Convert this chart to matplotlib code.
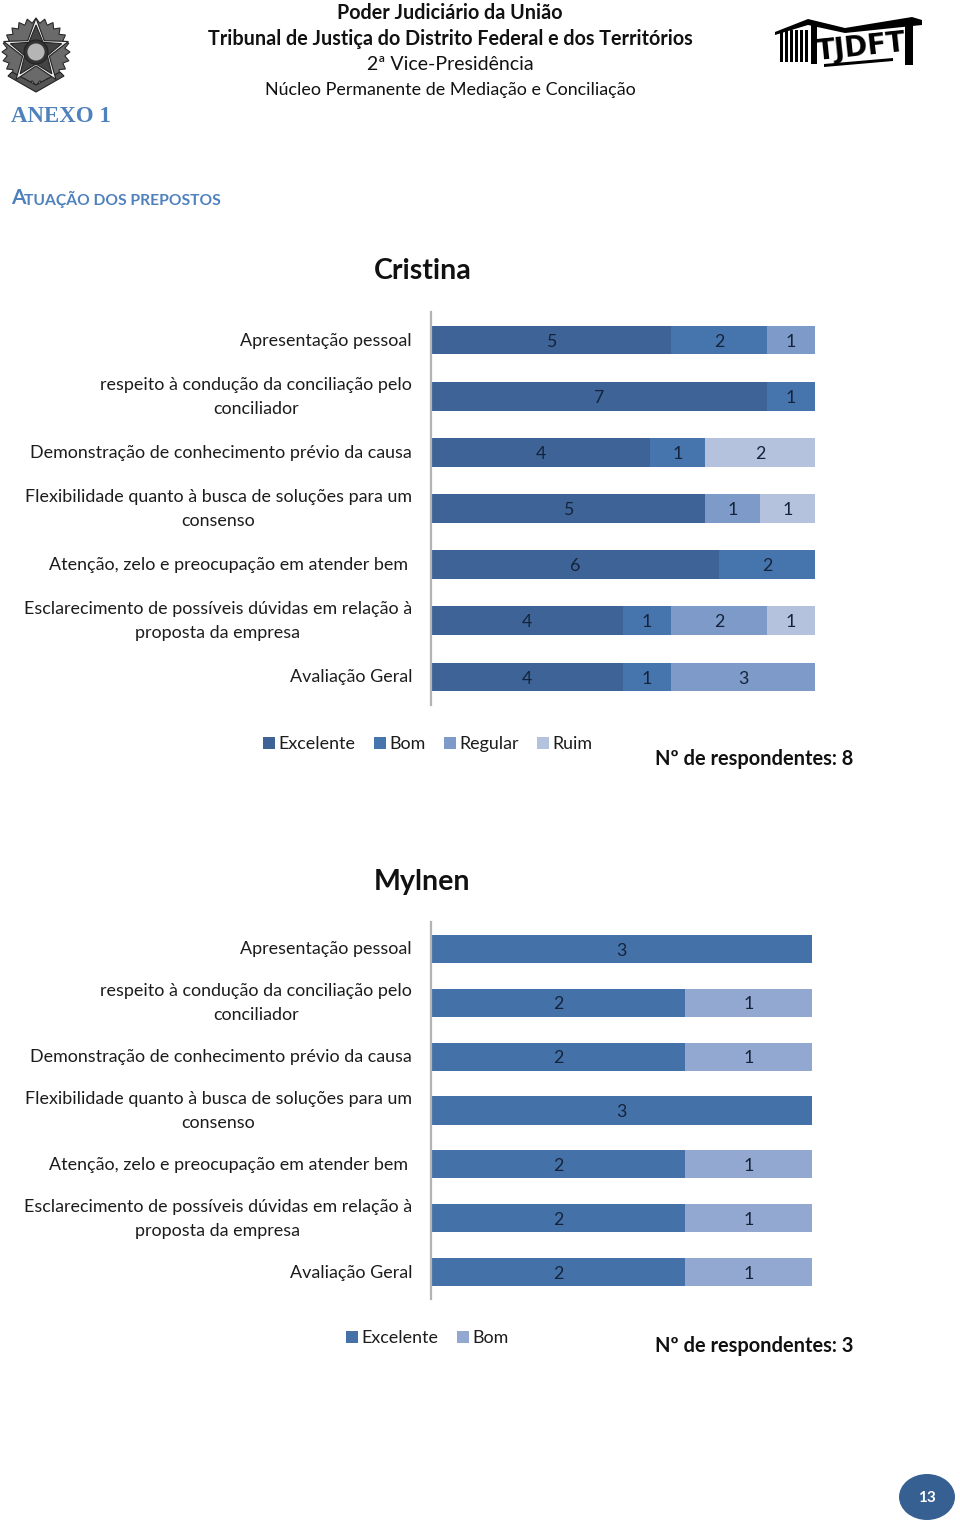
import matplotlib
matplotlib.use("Agg")
import matplotlib.pyplot as plt
import numpy as np
from matplotlib.patches import Ellipse, Polygon, Rectangle, Circle
from matplotlib.transforms import blended_transform_factory

plt.rcParams['font.family'] = ['Lato', 'DejaVu Sans']

categories = ["Apresentação pessoal",
              "respeito à condução da conciliação pelo\nconciliador",
              "Demonstração de conhecimento prévio da causa",
              "Flexibilidade quanto à busca de soluções para um\nconsenso",
              "Atenção, zelo e preocupação em atender bem",
              "Esclarecimento de possíveis dúvidas em relação à\nproposta da empresa",
              "Avaliação Geral"]
label_shift = [0, 0, 0, 0, -4, 0, 0]

cristina_excelente = [5, 7, 4, 5, 6, 4, 4]
cristina_bom = [2, 1, 1, 0, 2, 1, 1]
cristina_regular = [1, 0, 0, 1, 0, 2, 3]
cristina_ruim = [0, 0, 2, 1, 0, 1, 0]

mylnen_excelente = [3, 2, 2, 3, 2, 2, 2]
mylnen_bom = [0, 1, 1, 0, 1, 1, 1]

W, H = 960, 1522
fig = plt.figure(figsize=(W / 100, H / 100), dpi=100, facecolor='white')

bg = fig.add_axes([0, 0, 1, 1])
bg.set_xlim(0, W); bg.set_ylim(H, 0); bg.axis('off')

BLUE = '#4F81BD'
DARK = '#1c1c1c'
names_resp = {'Cristina': 'Nº de respondentes: 8', 'Mylnen': 'Nº de respondentes: 3'}


def chart(title, series, names, colors, box, bar_h, title_xy, legend_xy, col_sp, resp_y):
    x0, x1, y0, y1 = box
    ax = fig.add_axes([x0 / W, 1 - y1 / H, (x1 - x0) / W, (y1 - y0) / H])
    y = np.arange(len(categories))
    totals = np.sum(series, axis=0).astype(float)
    left = np.zeros(len(categories))
    for vals, name, col in zip(series, names, colors):
        vals = np.array(vals, float)
        frac = vals / totals
        bars = ax.barh(y, frac, left=left, height=bar_h, color=col, label=name, linewidth=0)
        labels = [str(int(v)) if v else '' for v in vals]
        for t in ax.bar_label(bars, labels=labels, label_type='center', fontsize=12.8, color='#14233a'):
            t.xyann = (0, -1.2)
        left += frac
    ax.set_xlim(0, 1)
    ax.set_ylim(len(categories) - 0.5, -0.5)
    ax.set_xticks([]); ax.set_yticks([])
    for s in ['top', 'right', 'bottom']:
        ax.spines[s].set_visible(False)
    ax.spines['left'].set_color('#b3b3b3')
    ax.spines['left'].set_linewidth(1.6)
    tr = blended_transform_factory(ax.transAxes, ax.transData)
    for i, (c, sh) in enumerate(zip(categories, label_shift)):
        ax.annotate(c, (0, i), xycoords=tr, xytext=(-19 + sh, -0.5), textcoords='offset pixels',
                    ha='right', va='center', multialignment='center', fontsize=12.88,
                    color=DARK, linespacing=1.63, annotation_clip=False)
    bg.text(title_xy[0], title_xy[1], title, fontsize=20.6, fontweight='bold', ha='center',
            va='center', color='#111111')
    ax.legend(loc='center left', bbox_to_anchor=((legend_xy[0] - x0) / (x1 - x0), (y1 - legend_xy[1]) / (y1 - y0)),
              ncol=len(names), frameon=False, fontsize=12.9, handlelength=0.68, handleheight=0.68,
              handletextpad=0.2, columnspacing=col_sp, borderpad=0, borderaxespad=0, labelcolor=DARK)
    bg.text(655, resp_y, names_resp[title], fontsize=14.4, fontweight='bold', ha='left',
            va='center', color='#111111')
    return ax


chart('Cristina',
      [cristina_excelente, cristina_bom, cristina_regular, cristina_ruim],
      ['Excelente', 'Bom', 'Regular', 'Ruim'],
      ['#3E6497', '#4675AE', '#7E9AC8', '#B4C2DE'],
      (431, 815, 312, 705), 0.51, (423, 271), (263, 744), 1.0, 759)

chart('Mylnen',
      [mylnen_excelente, mylnen_bom],
      ['Excelente', 'Bom'],
      ['#4472A8', '#92A8D0'],
      (431, 812, 922, 1299), 0.52, (422, 882), (346, 1338), 1.0, 1346)

# Header text
bg.text(450, 13, 'Poder Judiciário da União', fontsize=14.2, fontweight='bold', ha='center', va='center', color='#111111')
bg.text(450, 39, 'Tribunal de Justiça do Distrito Federal e dos Territórios', fontsize=14.2, fontweight='bold', ha='center', va='center', color='#111111')
bg.text(450, 65, '2ª Vice-Presidência', fontsize=14, ha='center', va='center', color='#111111')
bg.text(450, 90, 'Núcleo Permanente de Mediação e Conciliação', fontsize=12.9, ha='center', va='center', color='#111111')
bg.text(11, 117, 'ANEXO 1', fontsize=16.5, fontweight='bold', family='Liberation Serif', ha='left', va='center', color=BLUE)
bg.text(11, 198, 'A', fontsize=15, fontweight='bold', ha='left', va='center', color=BLUE)
bg.text(24, 199.5, 'TUAÇÃO DOS PREPOSTOS', fontsize=11.25, fontweight='bold', ha='left', va='center', color=BLUE)

# Crest (decorative)
cx, cy = 36, 52
n = 48
t = np.linspace(0, 2 * np.pi, n + 1)[:-1]
r = np.where(np.arange(n) % 2 == 0, 34, 29)
bg.add_patch(Polygon(np.c_[cx + r * np.cos(t), cy + r * np.sin(t)], fc='#6a6a6a', ec='#2a2a2a', lw=0.8))
bg.add_patch(Polygon([(8, 76), (36, 92), (64, 76), (60, 72), (36, 85), (12, 72)], fc='#555555', ec='#222222', lw=0.8))
t = np.linspace(-np.pi / 2, 1.5 * np.pi, 11)[:-1]
for rr, rs, fc in [(34, 14, '#f0f0f0'), (27, 12, '#444444')]:
    r = np.where(np.arange(10) % 2 == 0, rr, rs)
    bg.add_patch(Polygon(np.c_[cx + r * np.cos(t), cy + r * np.sin(t)], fc=fc, ec='#222222', lw=0.8))
bg.add_patch(Circle((cx, cy), 12, fc='#333333', ec='#222222', lw=0.8))
bg.add_patch(Circle((cx, cy), 9, fc='#b5b5b5', ec='#333333', lw=0.6))

# TJDFT logo (decorative)
for bx in range(780, 806, 5):
    bg.add_patch(Rectangle((bx, 30), 3, 32, fc='black', lw=0))
bg.add_patch(Polygon([(775, 32), (808, 19), (845, 28), (912, 17), (922, 20), (922, 25), (845, 33), (808, 25), (775, 35)], fc='black', lw=0))
bg.add_patch(Rectangle((811, 25), 6, 39, fc='black', lw=0))
bg.add_patch(Rectangle((905, 22), 8, 43, fc='black', lw=0))
bg.add_patch(Polygon([(824, 64), (893, 58), (893, 61), (824, 67)], fc='black', lw=0))
bg.text(861, 47, 'TJDFT', fontsize=20, fontweight='bold', ha='center', va='center', color='black',
        family='Liberation Sans Narrow', rotation=6)

# Page number
bg.add_patch(Ellipse((927, 1497), 56, 46, fc='#376092', lw=0))
bg.text(927, 1498, '13', fontsize=11, fontweight='bold', ha='center', va='center', color='white')

fig.savefig('out.png', dpi=100, facecolor='white')
